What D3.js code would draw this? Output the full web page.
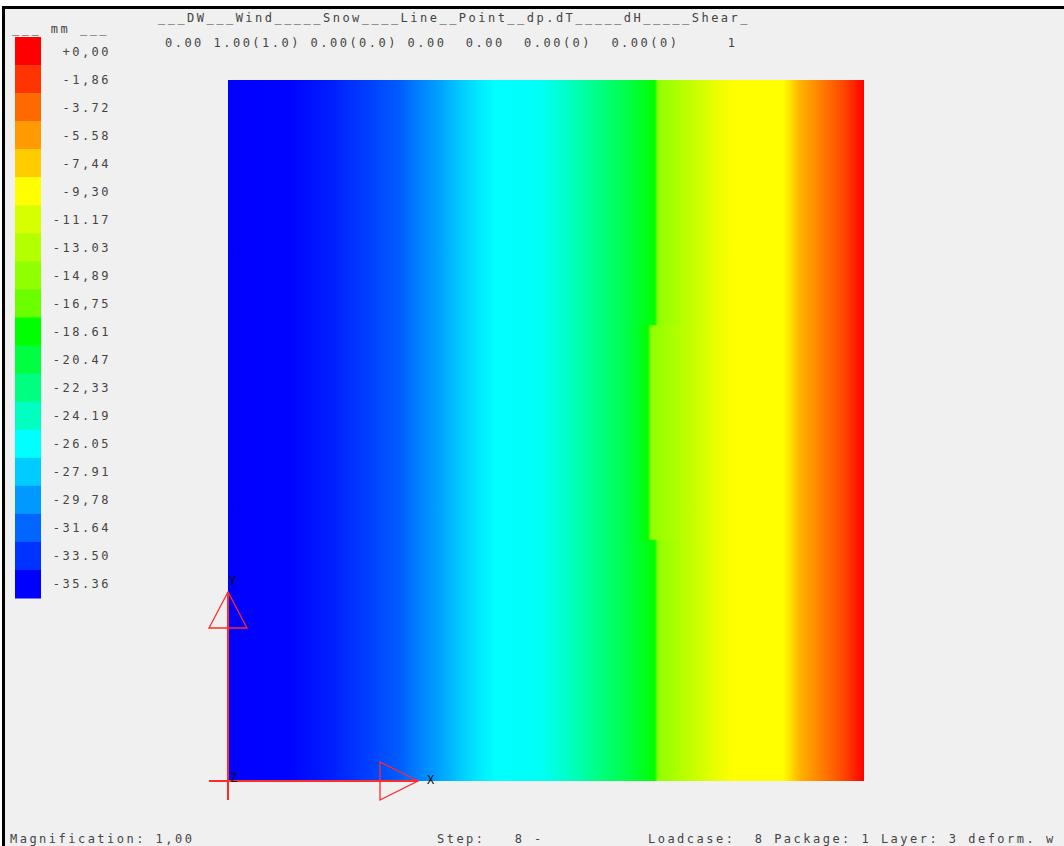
<!DOCTYPE html>
<html>
<head>
<meta charset="utf-8">
<script src="https://cdn.jsdelivr.net/npm/d3@7"></script>
<style>
  body { margin: 0; background: #fff; }
  svg { display: block; }
  text { font-family: "DejaVu Sans Mono", monospace; font-size: 12px; fill: #444; letter-spacing: 2.48px; white-space: pre; }
</style>
</head>
<body>
<div id="scene"></div>
<script>
// legend classes (mm), top to bottom
const legendLabels = ["+0,00", "-1,86", "-3.72", "-5.58", "-7,44", "-9,30", "-11.17", "-13.03", "-14,89", "-16,75",
  "-18.61", "-20.47", "-22,33", "-24.19", "-26.05", "-27.91", "-29,78", "-31.64", "-33.50", "-35.36"];
const legendValues = [0, -1.86, -3.72, -5.58, -7.44, -9.30, -11.17, -13.03, -14.89, -16.75,
  -18.61, -20.47, -22.33, -24.19, -26.05, -27.91, -29.78, -31.64, -33.50, -35.36];
const legendColors = ["#ff0000", "#ff3400", "#ff6a00", "#ff9a00", "#ffcc00", "#ffff00", "#d8ff00", "#b4ff00", "#90ff00", "#6cff00",
  "#00ff00", "#00ff40", "#00ff80", "#00ffc0", "#00ffff", "#00ccff", "#0099ff", "#0066ff", "#0033ff", "#0000ff"];

// deformation w (mm) read along the plate, x as fraction of plate width
const plateX = [0, 0.097, 0.160, 0.223, 0.269, 0.300, 0.332, 0.365, 0.396, 0.420, 0.491, 0.538, 0.585, 0.632,
  0.671, 0.676, 0.726, 0.766, 0.794, 0.873, 0.899, 0.931, 0.970, 1];
const plateW = [-35.36, -35.2, -34.3, -33.0, -32.0, -30.7, -29.5, -28.0, -26.8, -26.05, -25.8, -24.2, -22.3, -20.5,
  -18.6, -14.9, -12.4, -10.4, -9.3, -9.3, -6.5, -4.6, -2.4, 0];
// middle rows (step in the green/yellow edge)
const plateXMid = [0, 0.097, 0.160, 0.223, 0.269, 0.300, 0.332, 0.365, 0.396, 0.420, 0.491, 0.538, 0.585, 0.632,
  0.660, 0.665, 0.726, 0.766, 0.794, 0.873, 0.899, 0.931, 0.970, 1];
const plateWMid = plateW;
const midRows = [0.344, 0.650];

// header / footer texts
const headerNames = "___DW___Wind_____Snow____Line__Point__dp.dT_____dH_____Shear_";
const headerValues = "0.00 1.00(1.0) 0.00(0.0) 0.00  0.00  0.00(0)  0.00(0)     1";
const legendTitle = "___ mm ___";
const footerTexts = ["Magnification: 1,00", "Step:   8 -", "Loadcase:  8 Package: 1 Layer: 3 deform. w"];

function render() {
  const width = 1064, height = 846;
  const svg = d3.select("#scene").append("svg")
    .attr("width", width)
    .attr("height", height);

  // window frame
  svg.append("rect").attr("width", width).attr("height", height).attr("fill", "#ffffff");
  svg.append("rect").attr("x", 5).attr("y", 9).attr("width", width).attr("height", height).attr("fill", "#f0f0f0");
  svg.append("rect").attr("x", 2).attr("y", 6).attr("width", width).attr("height", 3).attr("fill", "#000");
  svg.append("rect").attr("x", 2).attr("y", 6).attr("width", 3).attr("height", height).attr("fill", "#000");

  const color = d3.scaleLinear().domain(legendValues).range(legendColors);

  // legend
  const band = d3.scaleBand().domain(legendLabels).range([37, 598]);
  svg.selectAll("rect.cls")
    .data(legendLabels)
    .enter()
    .append("rect")
    .attr("class", "cls")
    .attr("x", 15)
    .attr("y", d => band(d))
    .attr("width", 26)
    .attr("height", band.bandwidth() + 0.5)
    .attr("fill", (d, i) => legendColors[i]);
  svg.selectAll("text.cls")
    .data(legendLabels)
    .enter()
    .append("text")
    .attr("class", "cls")
    .attr("x", 111)
    .attr("y", d => band(d) + band.bandwidth() / 2 + 4.5)
    .attr("text-anchor", "end")
    .text(d => d);
  svg.append("text").attr("x", 12).attr("y", 33).text(legendTitle);

  // plate
  const x = d3.scaleLinear().domain([0, 1]).range([228, 864]);
  const y = d3.scaleLinear().domain([0, 1]).range([781, 80]);
  const defs = svg.append("defs");
  function gradient(id, xs, ws) {
    const g = defs.append("linearGradient").attr("id", id)
      .attr("x1", 0).attr("x2", 1).attr("y1", 0).attr("y2", 0);
    g.selectAll("stop")
      .data(xs)
      .enter()
      .append("stop")
      .attr("offset", d => d)
      .attr("stop-color", (d, i) => color(ws[i]));
  }
  gradient("wGrad", plateX, plateW);
  gradient("wGradMid", plateXMid, plateWMid);

  svg.append("rect")
    .attr("x", x(0)).attr("y", y(1))
    .attr("width", x(1) - x(0)).attr("height", y(0) - y(1))
    .attr("fill", "url(#wGrad)");
  svg.append("rect")
    .attr("x", x(0)).attr("y", y(midRows[1]))
    .attr("width", x(1) - x(0)).attr("height", y(midRows[0]) - y(midRows[1]))
    .attr("fill", "url(#wGradMid)");

  // coordinate triad
  const red = "#ff2a2a";
  const ox = x(0), oy = y(0);
  svg.append("line").attr("x1", ox).attr("y1", oy + 19).attr("x2", ox).attr("y2", oy - 189)
    .attr("stroke", red).attr("stroke-width", 2);
  svg.append("line").attr("x1", ox - 19).attr("y1", oy).attr("x2", ox + 190).attr("y2", oy)
    .attr("stroke", red).attr("stroke-width", 2);
  svg.append("path")
    .attr("d", `M${ox},${oy - 189}L${ox - 19},${oy - 153}L${ox + 19},${oy - 153}Z`)
    .attr("fill", "none").attr("stroke", red).attr("stroke-width", 1.3);
  svg.append("path")
    .attr("d", `M${ox + 190},${oy}L${ox + 152},${oy - 19}L${ox + 152},${oy + 19}Z`)
    .attr("fill", "none").attr("stroke", red).attr("stroke-width", 1.3);
  svg.append("text").attr("x", ox + 1).attr("y", oy - 196).style("fill", "#111").text("Y");
  svg.append("text").attr("x", ox + 199).attr("y", oy + 3).style("fill", "#111").text("X");
  svg.append("text").attr("x", ox + 2).attr("y", oy + 1).style("fill", "#111").text("Z");

  // header
  svg.append("text").attr("x", 158).attr("y", 22).text(headerNames);
  svg.append("text").attr("x", 165).attr("y", 47).text(headerValues);

  // footer
  const footerX = [10, 437, 648];
  svg.selectAll("text.foot")
    .data(footerTexts)
    .enter()
    .append("text")
    .attr("class", "foot")
    .attr("x", (d, i) => footerX[i])
    .attr("y", 843)
    .text(d => d);
}
render();
</script>
</body>
</html>
